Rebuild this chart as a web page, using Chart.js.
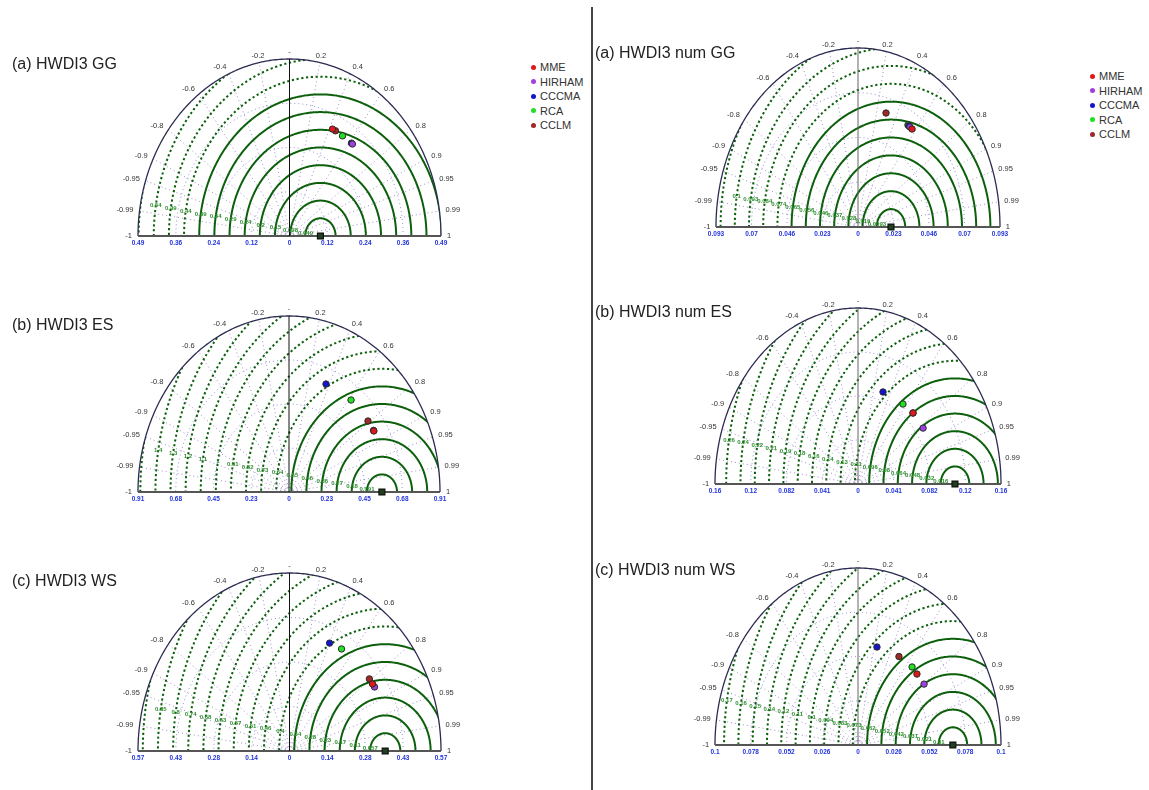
<!DOCTYPE html>
<html><head><meta charset="utf-8">
<script src="https://cdn.jsdelivr.net/npm/chart.js@4.4.1/dist/chart.umd.min.js"></script>
<style>
body{margin:0;background:#fff;width:1149px;height:790px;overflow:hidden;position:relative;font-family:"Liberation Sans",Arial,sans-serif;}
canvas{position:absolute;}
.title{position:absolute;font-size:16px;color:#222;white-space:nowrap;line-height:18px;}
.legend{position:absolute;font-size:11px;color:#333;}
.legend div{height:14.5px;line-height:14.5px;position:relative;padding-left:9px;white-space:nowrap}
.legend span{position:absolute;left:0;top:4.5px;width:5px;height:5px;border-radius:50%}
#divider{position:absolute;left:591px;top:7px;width:2px;height:783px;background:#444}
</style></head><body>
<div id="divider"></div>
<script>
// ---------- data ----------
const models = ['MME','HIRHAM','CCCMA','RCA','CCLM'];
const modelColors = ['#e01818','#a040e0','#1414d0','#22e022','#a02828'];
const panelTitles = ['(a) HWDI3 GG','(b) HWDI3 ES','(c) HWDI3 WS','(a) HWDI3 num GG','(b) HWDI3 num ES','(c) HWDI3 num WS'];
const stdMax = [0.49, 0.91, 0.57, 0.093, 0.16, 0.104];
const refStd = [0.10, 0.56, 0.36, 0.0216, 0.1085, 0.069];
const stdTickLabels = [
  ['0.49','0.36','0.24','0.12','0','0.12','0.24','0.36','0.49'],
  ['0.91','0.68','0.45','0.23','0','0.23','0.45','0.68','0.91'],
  ['0.57','0.43','0.28','0.14','0','0.14','0.28','0.43','0.57'],
  ['0.093','0.07','0.046','0.023','0','0.023','0.046','0.07','0.093'],
  ['0.16','0.12','0.082','0.041','0','0.041','0.082','0.12','0.16'],
  ['0.1','0.078','0.052','0.026','0','0.026','0.052','0.078','0.1']
];
const corrTicks = [-1,-0.99,-0.95,-0.9,-0.8,-0.6,-0.4,-0.2,0,0.2,0.4,0.6,0.8,0.9,0.95,0.99,1];
const corrTickLabels = ['-1','-0.99','-0.95','-0.9','-0.8','-0.6','-0.4','-0.2','-','0.2','0.4','0.6','0.8','0.9','0.95','0.99','1'];
const rmsLevels = [
  [0.049,0.098,0.147,0.196,0.245,0.294,0.343,0.392,0.441,0.49,0.539,0.588],
  [0.091,0.182,0.273,0.364,0.455,0.546,0.637,0.728,0.819,0.91,1.001,1.092,1.183,1.274,1.365,1.456],
  [0.057,0.114,0.171,0.228,0.285,0.342,0.399,0.456,0.513,0.57,0.627,0.684,0.741,0.798,0.855,0.912],
  [0.0093,0.0186,0.0279,0.0372,0.0465,0.0558,0.0651,0.0744,0.0837,0.093,0.1023,0.1116],
  [0.016,0.032,0.048,0.064,0.08,0.096,0.112,0.128,0.144,0.16,0.176,0.192,0.208,0.224,0.24,0.256],
  [0.0104,0.0208,0.0312,0.0416,0.052,0.0624,0.0728,0.0832,0.0936,0.104,0.1144,0.1248,0.1352,0.1456,0.156,0.1664]
];
// standard deviation and correlation of each model, one entry per panel
const stdMME    = [0.327, 0.601, 0.379, 0.0620, 0.0892, 0.0598];
const corrMME   = [0.425, 0.851, 0.824, 0.571, 0.690, 0.717];
const stdHIRHAM = [0.326, 0.601, 0.380, 0.0621, 0.0888, 0.0599];
const corrHIRHAM= [0.624, 0.848, 0.842, 0.548, 0.820, 0.802];
const stdCCCMA  = [0.326, 0.601, 0.377, 0.0622, 0.0882, 0.0592];
const corrCCCMA = [0.615, 0.371, 0.400, 0.535, 0.317, 0.233];
const stdRCA    = [0.326, 0.605, 0.381, 0.0623, 0.0884, 0.0604];
const corrRCA   = [0.526, 0.618, 0.514, 0.525, 0.569, 0.651];
const stdCCLM   = [0.327, 0.601, 0.379, 0.0620, 0.0892, 0.0599];
const corrCCLM  = [0.455, 0.792, 0.793, 0.296, 0.690, 0.497];
const modelStd  = [stdMME, stdHIRHAM, stdCCCMA, stdRCA, stdCCLM];
const modelCorr = [corrMME, corrHIRHAM, corrCCCMA, corrRCA, corrCCLM];

// ---------- layout ----------
const geom = [
  {cx:289, base:236, rx:151.5, ry:177, tx:12, ty:55,  axis:'#111'},
  {cx:289, base:492, rx:151,   ry:176, tx:12, ty:316, axis:'#111'},
  {cx:289, base:751, rx:151.5, ry:178, tx:12, ty:572, axis:'#111'},
  {cx:858, base:227, rx:142,   ry:179, tx:595, ty:44,  axis:'#666'},
  {cx:858, base:484, rx:143,   ry:176, tx:595, ty:303, axis:'#666'},
  {cx:858, base:745, rx:143,   ry:177, tx:595, ty:561, axis:'#666'}
];
const legendPos = [{x:531, y:60}, {x:1090, y:69}];

function makeGrid(p){
  return {id:'taylorGrid'+p, beforeDatasetsDraw(chart){
    const ctx = chart.ctx, xs = chart.scales.x, ys = chart.scales.y;
    const X = v => xs.getPixelForValue(v), Y = v => ys.getPixelForValue(v);
    const R = stdMax[p], ref = refStd[p];
    const arc = (x0, r, a0, a1) => {
      const n = 240; ctx.beginPath();
      for (let i = 0; i <= n; i++) {
        const a = a0 + (a1 - a0) * i / n;
        const px = X(x0 + r * Math.cos(a)), py = Y(r * Math.sin(a));
        i ? ctx.lineTo(px, py) : ctx.moveTo(px, py);
      }
    };
    ctx.save();
    // std arcs (dotted)
    ctx.lineWidth = 1; ctx.setLineDash([1, 3]); ctx.strokeStyle = '#8c8cd6';
    [0.25, 0.5, 0.75].forEach(f => { arc(0, R * f, 0, Math.PI); ctx.stroke(); });
    // correlation rays (dotted)
    ctx.strokeStyle = '#a08cc8';
    corrTicks.forEach(c => {
      if (Math.abs(c) === 1 || c === 0) return;
      const s = Math.sqrt(1 - c * c);
      ctx.beginPath(); ctx.moveTo(X(0), Y(0)); ctx.lineTo(X(R * c), Y(R * s)); ctx.stroke();
    });
    // RMS arcs, clipped to the diagram
    ctx.save();
    arc(0, R, 0, Math.PI); ctx.closePath(); ctx.clip();
    const solidMax = Math.max(R - ref, ref) * 1.02;
    ctx.strokeStyle = '#0c600c'; ctx.lineWidth = 2;
    rmsLevels[p].forEach(L => {
      ctx.setLineDash(L <= solidMax ? [] : [2.2, 2.6]);
      arc(ref, L, 0, Math.PI); ctx.stroke();
    });
    ctx.restore();
    ctx.setLineDash([]);
    // outer arc
    ctx.strokeStyle = '#2c2c52'; ctx.lineWidth = 1.3;
    arc(0, R, 0, Math.PI); ctx.stroke();
    // baseline
    ctx.strokeStyle = '#555'; ctx.lineWidth = 2;
    ctx.beginPath(); ctx.moveTo(X(-R), Y(0)); ctx.lineTo(X(R), Y(0)); ctx.stroke();
    // vertical zero-correlation line
    ctx.strokeStyle = geom[p].axis; ctx.lineWidth = 1;
    ctx.beginPath(); ctx.moveTo(X(0), Y(0)); ctx.lineTo(X(0), Y(R)); ctx.stroke();
    // correlation labels
    ctx.fillStyle = '#333'; ctx.font = '7.5px "Liberation Sans"'; ctx.textBaseline = 'middle';
    corrTicks.forEach((c, i) => {
      const s = Math.sqrt(1 - c * c);
      ctx.textAlign = Math.abs(c) <= 0.2 ? 'center' : (c > 0 ? 'left' : 'right');
      ctx.fillText(corrTickLabels[i], X(R * c * 1.04), Y(R * s * 1.04));
    });
    // RMS labels
    ctx.fillStyle = '#2f8f2f'; ctx.font = 'bold 6px "Liberation Sans"'; ctx.textAlign = 'center';
    const ang = 171 * Math.PI / 180;
    rmsLevels[p].forEach(L => {
      const x = ref + L * Math.cos(ang), y = L * Math.sin(ang);
      if (Math.hypot(x, y) > R * 0.97) return;
      ctx.fillText(String(Number(L.toPrecision(2))), X(x), Y(y));
    });
    ctx.restore();
  }};
}

panelTitles.forEach((title, p) => {
  const g = geom[p];
  const padL = 45, padR = 45, padT = 22, padB = 4, axisH = 12;
  const W = Math.round(2 * g.rx + padL + padR);
  const H = Math.round(g.ry + padT + axisH + padB);
  const cv = document.createElement('canvas');
  cv.width = W; cv.height = H;
  cv.style.left = Math.round(g.cx - g.rx - padL) + 'px';
  cv.style.top = Math.round(g.base - g.ry - padT) + 'px';
  document.body.appendChild(cv);

  const t = document.createElement('div');
  t.className = 'title'; t.textContent = title;
  t.style.left = g.tx + 'px'; t.style.top = g.ty + 'px';
  document.body.appendChild(t);

  const R = stdMax[p];
  const datasets = models.map((m, i) => {
    const s = modelStd[i][p], c = modelCorr[i][p];
    return {label: m, data: [{x: s * c, y: s * Math.sqrt(1 - c * c)}],
      backgroundColor: modelColors[i], borderColor: '#2a2a2a', borderWidth: 1,
      pointRadius: 3.2, clip: false};
  });
  datasets.push({label: 'ref', data: [{x: refStd[p], y: 0}], pointStyle: 'rect',
    pointRadius: 4.2, backgroundColor: '#1f3f1f', borderColor: '#111', borderWidth: 1.2, clip: false});

  new Chart(cv, {
    type: 'scatter',
    data: {datasets},
    options: {
      responsive: false, animation: false, devicePixelRatio: 1,
      layout: {padding: {left: padL, right: padR, top: padT, bottom: padB}},
      plugins: {legend: {display: false}, tooltip: {enabled: false}},
      scales: {
        x: {type: 'linear', min: -R, max: R,
          grid: {display: false, drawTicks: false}, border: {display: false},
          afterBuildTicks: s => { s.ticks = [-1, -0.75, -0.5, -0.25, 0, 0.25, 0.5, 0.75, 1].map(f => ({value: f * R})); },
          afterFit: s => { s.height = axisH; },
          ticks: {autoSkip: false, maxRotation: 0, minRotation: 0, padding: 3, color: '#2233dd',
            font: {size: 6.5, weight: 'bold', family: 'Liberation Sans'},
            callback: (v, i) => stdTickLabels[p][i]}},
        y: {display: false, min: 0, max: R}
      }
    },
    plugins: [makeGrid(p)]
  });
});

legendPos.forEach(lp => {
  const d = document.createElement('div');
  d.className = 'legend'; d.style.left = lp.x + 'px'; d.style.top = lp.y + 'px';
  models.forEach((m, i) => {
    const row = document.createElement('div');
    const dot = document.createElement('span'); dot.style.background = modelColors[i];
    row.appendChild(dot); row.appendChild(document.createTextNode(m));
    d.appendChild(row);
  });
  document.body.appendChild(d);
});
</script>
</body></html>
